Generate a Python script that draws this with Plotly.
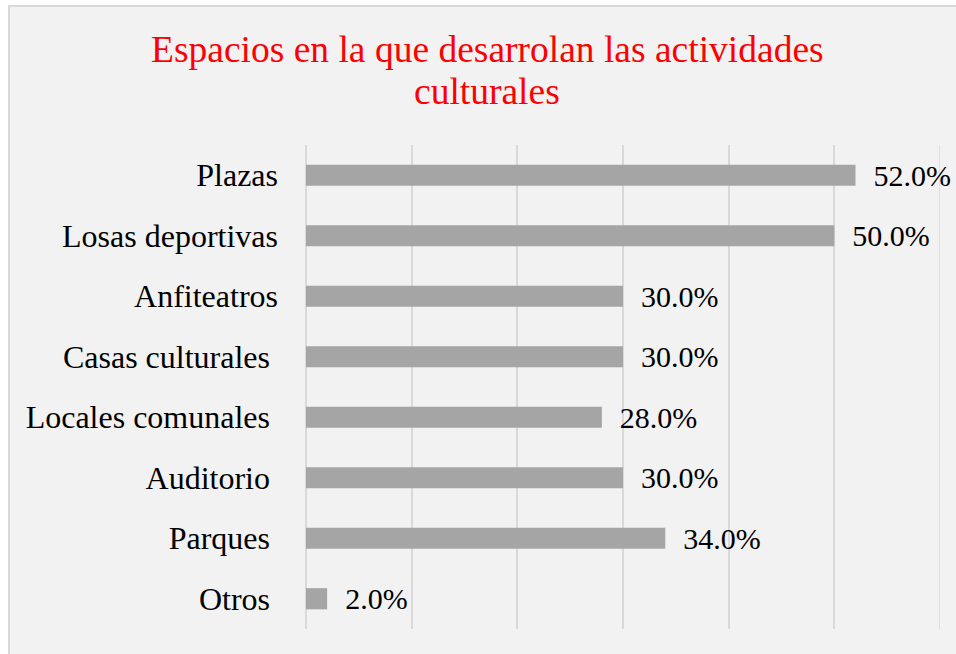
import plotly.graph_objects as go

categories = ["Plazas", "Losas deportivas", "Anfiteatros", "Casas culturales ",
              "Locales comunales ", "Auditorio ", "Parques ", "Otros "]
values = [52.0, 50.0, 30.0, 30.0, 28.0, 30.0, 34.0, 2.0]
title_lines = ["Espacios en la que desarrolan las actividades", "culturales"]
x_max = 60

W, H = 956, 654
L, R, T, B = 306, 16, 145, 25
pw, ph = W - L - R, H - T - B

def fx(px):
    return (px - L) / pw

def fy(py):
    return (H - B - py) / ph

ticktext = [c.rstrip() + "\u00a0" * (len(c) - len(c.rstrip())) for c in categories]
labels = ["\u00a0\u00a0" + f"{v:.1f}%" for v in values]

serif = "Liberation Serif"
grid = "#d9d9d9"

fig = go.Figure(go.Bar(
    x=values, y=categories, orientation="h",
    marker=dict(color="#a5a5a5", line=dict(width=0)),
    width=0.35,
    text=labels, textposition="outside", cliponaxis=False, constraintext="none",
    textfont=dict(family=serif, size=30, color="#000000"),
    hoverinfo="skip",
))

annotations = []
for i, line in enumerate(title_lines):
    annotations.append(dict(
        text=line, showarrow=False, xref="paper", yref="paper",
        x=fx(487), y=fy(50 + 42 * i), xanchor="center", yanchor="middle",
        font=dict(family=serif, size=37.5, color="#ff0000"),
    ))

fig.update_layout(
    width=W, height=H,
    margin=dict(l=L, r=R, t=T, b=B),
    paper_bgcolor="#ffffff",
    plot_bgcolor="rgba(0,0,0,0)",
    showlegend=False,
    annotations=annotations,
    xaxis=dict(range=[0, x_max], dtick=10, showticklabels=False, showgrid=True,
               gridcolor=grid, gridwidth=1.5, zeroline=True,
               zerolinecolor=grid, zerolinewidth=1.5, showline=False,
               fixedrange=True),
    yaxis=dict(autorange="reversed", tickmode="array", tickvals=categories,
               ticktext=ticktext, ticks="", ticklabelstandoff=27,
               tickfont=dict(family=serif, size=32, color="#000000"),
               showgrid=False, showline=False, fixedrange=True),
    shapes=[
        dict(type="rect", xref="paper", yref="paper", x0=fx(8), x1=fx(W + 10),
             y0=fy(5), y1=fy(H + 10), fillcolor="#f2f2f2",
             line=dict(width=0), layer="below"),
        dict(type="line", xref="paper", yref="paper", x0=fx(9), x1=fx(9),
             y0=fy(5), y1=fy(H + 10), line=dict(color=grid, width=2), layer="below"),
        dict(type="line", xref="paper", yref="paper", x0=fx(8), x1=fx(W + 10),
             y0=fy(6), y1=fy(6), line=dict(color=grid, width=2), layer="below"),
        dict(type="line", xref="x", yref="paper", x0=x_max, x1=x_max,
             y0=0, y1=1, line=dict(color=grid, width=1.5), layer="below"),
    ],
)

fig.write_html(
    "out.html",
    config={"displayModeBar": False},
    post_script="document.body.style.margin='0';document.body.style.overflow='hidden';",
)
